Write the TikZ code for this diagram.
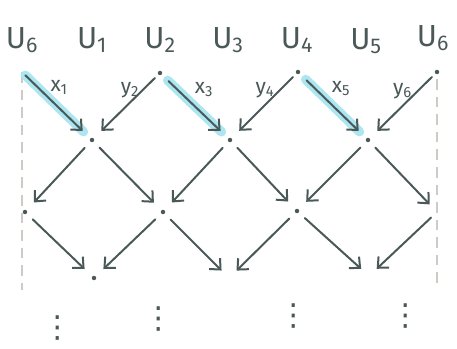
\documentclass[tikz,border=0pt]{standalone}
\usepackage{fontspec}
\setmainfont{Fira Sans}
\newfontfamily\simboli{DejaVu Sans}
\usetikzlibrary{arrows.meta}
\definecolor{inchiostro}{RGB}{74,88,88}
\definecolor{evidenz}{RGB}{172,230,240}
\definecolor{grigio}{RGB}{206,202,196}

\begin{document}
\begin{tikzpicture}[x=0.03cm,y=-0.03cm,
		freccia/.style={line width=1.7pt, draw=inchiostro, line cap=round,
			-{Straight Barb[length=2.5mm,width=4.6mm,line width=1.7pt]},
			shorten <=7pt, shorten >=9pt},
		evid/.style={line width=8pt, line cap=round, draw=evidenz,
			shorten <=4pt, shorten >=8pt},
		nodo/.style={circle, fill=inchiostro, inner sep=0pt, minimum size=3.8pt},
		bordo/.style={line width=1.7pt, draw=grigio, dash pattern=on 9pt off 6pt},
		etic/.style={font=\fontsize{26}{28}\selectfont, text=inchiostro},
		lab/.style={font=\fontsize{18}{20}\selectfont, text=inchiostro, inner sep=1pt, pos=0.5},
		puntini/.style={font=\simboli\fontsize{26}{26}\selectfont, text=inchiostro},
	]
	\useasboundingbox (0,0) rectangle (457,349);
	
	%% ── etichette U ────────────────────────────────────────
	\node[etic] (u6a) at (22,40) {U\textsubscript{6}};
	\node[etic] (u1) at (92,40) {U\textsubscript{1}};
	\node[etic] (u2) at (160,40) {U\textsubscript{2}};
	\node[etic] (u3) at (228,40) {U\textsubscript{3}};
	\node[etic] (u4) at (297,40) {U\textsubscript{4}};
	\node[etic] (u5) at (366,41) {U\textsubscript{5}};
	\node[etic] (u6b) at (433,38) {U\textsubscript{6}};
	
	%% ── punti del reticolo ─────────────────────────────────
	\coordinate (a0) at (22,72);
	\node[nodo] (a2) at (160,73) {};
	\node[nodo] (a4) at (298,72) {};
	\node[nodo] (a6) at (437,72) {};
	\node[nodo] (b1) at (92,140) {};
	\node[nodo] (b2) at (230,140) {};
	\node[nodo] (b3) at (368,140) {};
	\node[nodo] (c0) at (25,212) {};
	\node[nodo] (c2) at (163,212) {};
	\node[nodo] (c4) at (297,211) {};
	\coordinate (c6) at (437,212);
	\node[nodo] (d1) at (94,278) {};
	\coordinate (d3) at (229,278);
	\coordinate (d5) at (369,276);
	\coordinate (f0) at (22,290);
	\coordinate (f6) at (437,286);
	
	%% ── bordi tratteggiati ─────────────────────────────────
	\draw[bordo] (a0) -- (f0);
	\draw[bordo, shorten <=4pt] (a6) -- (f6);
	
	%% ── evidenziature ──────────────────────────────────────
	\draw[evid] (a0) -- (b1);
	\draw[evid, shorten <=7pt] (a2) -- (b2);
	\draw[evid, shorten <=7pt] (a4) -- (b3);
	
	%% ── frecce prima riga ──────────────────────────────────
	\draw[freccia, shorten <=4pt] (a0) -- node[lab, shift={(3,-18)}]{x\textsubscript{1}} (b1);
	\draw[freccia, shorten <=4pt] (a2) -- node[lab, shift={(4,-16)}]{y\textsubscript{2}} (b1);
	\draw[freccia, shorten <=8pt] (a2) -- node[lab, shift={(9,-17)}]{x\textsubscript{3}} (b2);
	\draw[freccia, shorten <=4pt] (a4) -- node[lab, shift={(1,-16)}]{y\textsubscript{4}} (b2);
	\draw[freccia, shorten <=8pt] (a4) -- node[lab, shift={(8,-17)}]{x\textsubscript{5}} (b3);
	\draw[freccia, shorten <=4pt] (a6) -- node[lab, shift={(0,-15)}]{y\textsubscript{6}} (b3);
	
	%% ── frecce righe successive ────────────────────────────
	\foreach \da/\a in {b1/c0,b1/c2,b2/c2,b2/c4,b3/c4,b3/c6,
		c0/d1,c2/d1,c2/d3,c4/d3,c4/d5,c6/d5}
	\draw[freccia] (\da) -- (\a);
	
	%% ── puntini ────────────────────────────────────────────
	\node[puntini] (v1) at (58,328) {⋮};
	\node[puntini] (v2) at (159,319) {⋮};
	\node[puntini] (v3) at (294,316) {⋮};
	\node[puntini] (v4) at (406,316) {⋮};
	
\end{tikzpicture}
\end{document}
